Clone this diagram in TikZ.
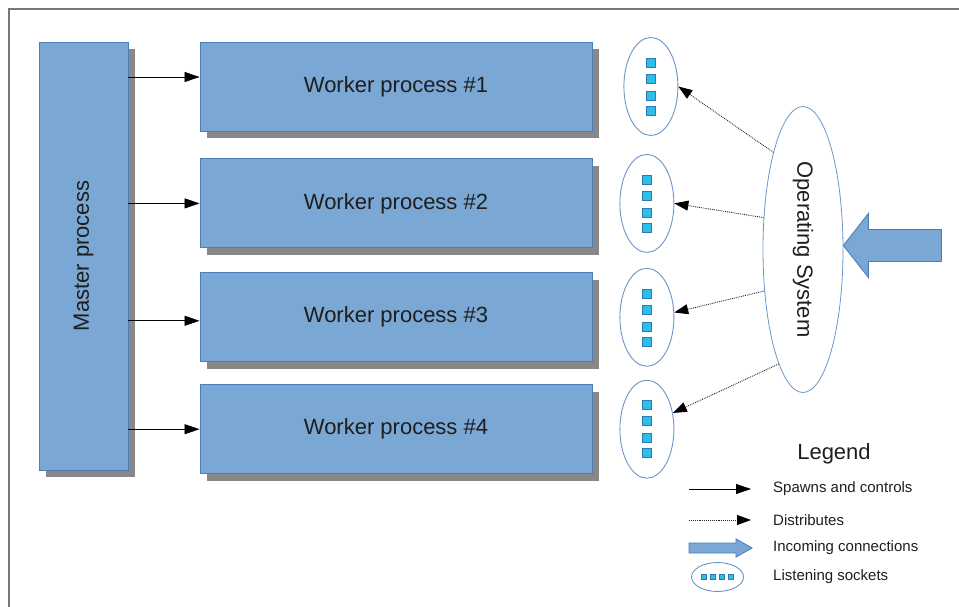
\documentclass[tikz,border=0pt]{standalone}
\usepackage{fontspec}
\setmainfont{Liberation Sans}
\usetikzlibrary{shapes.geometric, arrows.meta, positioning, shadows, calc}

\definecolor{boxblue}{HTML}{7BA7D4}
\definecolor{edgeblue}{HTML}{4A7EBB}
\definecolor{ringblue}{HTML}{6A95C9}
\definecolor{portcyan}{HTML}{2DBFE5}
\definecolor{portedge}{HTML}{2F78B4}
\definecolor{shadowgray}{HTML}{888888}
\definecolor{framegray}{HTML}{777777}
\definecolor{inkgray}{HTML}{1E1E1E}

\tikzset{
  procbox/.style={rectangle, draw=edgeblue, fill=boxblue, line width=0.9pt, inner sep=0pt,
    drop shadow={shadow xshift=7pt, shadow yshift=-7pt, fill=shadowgray, opacity=1}},
  sockring/.style={ellipse, draw=ringblue, fill=white, line width=0.9pt,
    minimum width=54pt, minimum height=98pt, inner sep=0pt},
  port/.style={rectangle, draw=portedge, fill=portcyan, line width=0.6pt, minimum size=9pt, inner sep=0pt},
  spawn/.style={-{Triangle[length=15pt,width=10pt]}, line width=0.8pt, draw=black},
  distrib/.style={-{Triangle[length=14pt,width=10pt,color=black]}, densely dotted, line width=0.9pt, draw=black!85},
  bigarrow/.style={draw=edgeblue, fill=boxblue, line width=0.9pt},
  legendtext/.style={font=\fontsize{15}{18}\selectfont, inner sep=0pt, anchor=west}
}

\begin{document}
\begin{tikzpicture}[x=1pt, y=-1pt, font=\fontsize{22}{26}\selectfont, text=inkgray]
    \useasboundingbox (0,0) rectangle (959,607);
    % Frame edges
    \draw[framegray, line width=1.5pt] (9,607) -- (9,9) -- (959,9);

    % Define nodes
    \node (master) [procbox, minimum width=89pt, minimum height=428pt] at (83.5,256) {};
    \node (masterlabel) [rotate=90] at (master) {Master process};
    \node (worker1) [procbox, minimum width=392pt, minimum height=89pt] at (396,86.5) {Worker process \#1};
    \node (worker2) [procbox, minimum width=392pt, minimum height=89pt, below=27pt of worker1] {Worker process \#2};
    \node (worker3) [procbox, minimum width=392pt, minimum height=89pt, below=24pt of worker2] {Worker process \#3};
    \node (worker4) [procbox, minimum width=392pt, minimum height=89pt, below=22pt of worker3] {Worker process \#4};

    % Listening sockets
    \node (socket1) [sockring, right=31pt of worker1] {};
    \node (socket2) [sockring, right=27pt of worker2] {};
    \node (socket3) [sockring, right=27pt of worker3] {};
    \node (socket4) [sockring, right=27pt of worker4] {};
    \foreach \k in {1,...,4}
        \foreach \dy [count=\i] in {-24,-8,9,24}
            \node (port\k\i) [port] at ($(socket\k)+(0,\dy)$) {};

    \node (os) [ellipse, draw=ringblue, line width=0.8pt, minimum width=80pt, minimum height=286pt, inner sep=0pt] at (803,249.5) {};
    \node (oslabel) [rotate=-90] at (os) {Operating System};

    % Draw arrows
    \coordinate (in1) at ([yshift=9.5pt]worker1.west);
    \coordinate (in3) at ([yshift=-3.5pt]worker3.west);
    \draw[spawn] (in1 -| master.east) -- (in1);
    \draw[spawn] (worker2.west -| master.east) -- (worker2.west);
    \draw[spawn] (in3 -| master.east) -- (in3);
    \draw[spawn] (worker4.west -| master.east) -- (worker4.west);

    \draw[distrib] (os.107) -- (socket1.east);
    \draw[distrib] (os.141) -- (socket2.east);
    \draw[distrib] (os.227) -- (socket3.10);
    \draw[distrib] (os.258) -- (socket4.32);

    % Incoming connections
    \draw[bigarrow] ([yshift=4pt]os.east) -- ++(25,-32) -- ++(0,16) -- ++(73,0) -- ++(0,32)
        -- ++(-73,0) -- ++(0,16) -- cycle;

    % Legend
    \node (legend) at (834,454) {Legend};
    \node (lspawn) [legendtext] at (773,489) {Spawns and controls};
    \node (ldist) [legendtext] at (773,520) {Distributes};
    \node (lincoming) [legendtext] at (773,548) {Incoming connections};
    \node (llisten) [legendtext] at (773,577) {Listening sockets};

    \draw[spawn] ([xshift=-84pt]lspawn.west) -- ([xshift=-22pt]lspawn.west);
    \draw[distrib] ([xshift=-84pt]ldist.west) -- ([xshift=-22pt]ldist.west);
    \draw[bigarrow] ($(lincoming.west)+(-84,-5)$) -- ++(47,0) -- ++(0,-4) -- ++(16,9)
        -- ++(-16,9) -- ++(0,-4) -- ++(-47,0) -- cycle;
    \node (lsock) [sockring, minimum width=52pt, minimum height=29pt, left=29pt of llisten] {};
    \foreach \dx [count=\i] in {-13.5,-4.5,4.5,13.5}
        \node (lport\i) [port, minimum size=5pt, line width=0.4pt] at ($(lsock)+(\dx,0)$) {};
\end{tikzpicture}
\end{document}
